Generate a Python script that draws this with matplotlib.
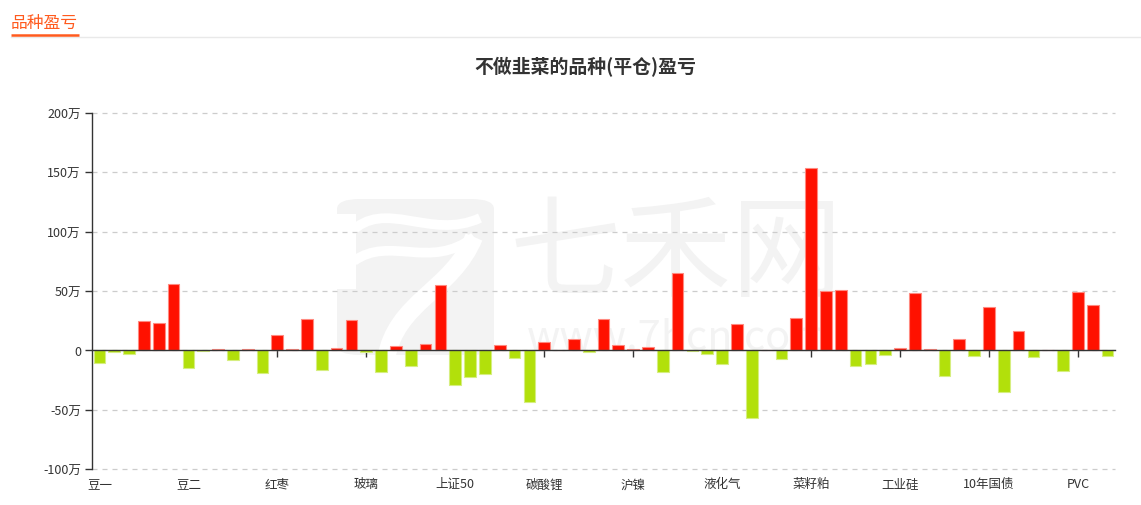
import matplotlib
matplotlib.use("Agg")
import matplotlib.pyplot as plt
from matplotlib.patches import FancyBboxPatch, PathPatch, Rectangle
from matplotlib.path import Path
from matplotlib.lines import Line2D
from matplotlib.ticker import FuncFormatter, FixedLocator
import numpy as np

plt.rcParams['font.family'] = ['Noto Sans CJK SC', 'DejaVu Sans']

# ---- data (盈亏, 单位: 万元) ----
categories = [
    "豆一", "豆粕", "豆油", "棕榈油", "玉米", "玉米淀粉",
    "豆二", "鸡蛋", "生猪", "苹果", "白糖", "棉花",
    "红枣", "花生", "菜籽油", "纯碱", "尿素", "甲醇",
    "玻璃", "PTA", "短纤", "乙二醇", "苯乙烯", "沪深300",
    "上证50", "中证500", "中证1000", "沪铜", "沪铝", "沪锌",
    "碳酸锂", "沪铅", "沪锡", "沪金", "沪银", "螺纹钢",
    "沪镍", "热卷", "铁矿石", "焦炭", "焦煤", "硅铁",
    "液化气", "锰硅", "不锈钢", "原油", "燃料油", "沥青",
    "菜籽粕", "橡胶", "20号胶", "纸浆", "塑料", "聚丙烯",
    "工业硅", "线材", "低硫燃料油", "集运指数", "5年国债", "2年国债",
    "10年国债", "30年国债", "菜籽", "粳米", "强麦", "棉纱",
    "PVC", "烧碱", "对二甲苯",
]
profit_wan = [
    -11.0, -1.7, -3.1, 24.7, 23.0, 56.2, -15.3, -0.3, 0.9, -8.0,
    1.4, -19.3, 12.8, 0.9, 26.4, -16.5, 1.7, 25.6, -1.7, -18.5,
    3.4, -13.1, 5.7, 55.4, -29.5, -22.2, -19.9, 4.3, -6.8, -43.2,
    7.4, 0.0, 9.7, -1.1, 26.1, 4.3, 0.9, 2.6, -17.9, 65.0,
    -0.8, -2.8, -11.9, 21.9, -57.4, 0.0, -7.7, 27.3, 153.8, 50.1,
    50.7, -13.0, -11.5, -4.2, 2.3, 48.5, 0.8, -22.0, 9.6, -4.5,
    36.9, -35.2, 16.1, -5.6, 0.0, -17.5, 49.3, 38.6, -5.1,
]
y_ticks = [-100, -50, 0, 50, 100, 150, 200]
label_interval = 6

W, H = 1141, 506
fig = plt.figure(figsize=(W / 100, H / 100), dpi=100)

def fx(x):
    return x / W

def fy(y):
    return 1 - y / H

def fp(x, y):
    return (fx(x), fy(y))

# ---- header ----
fig.text(fx(11), fy(23), "品种盈亏", color="#ff5a1e", fontsize=12.1,
         va="center", ha="left")
fig.add_artist(Line2D([fx(11), fx(1141)], [fy(37.5), fy(37.5)],
                      color="#e9e9e9", lw=1.0))
fig.add_artist(Line2D([fx(11), fx(79)], [fy(35.5), fy(35.5)],
                      color="#ff5a1e", lw=1.8, solid_capstyle="butt"))

# ---- title ----
fig.text(fx(585), fy(67), "不做韭菜的品种(平仓)盈亏", color="#333333",
         fontsize=13.6, fontweight="bold", ha="center", va="center")

# ---- watermark (behind the axes) ----
wm = "#f3f3f3"
fig.add_artist(FancyBboxPatch(fp(337, 356), fx(494) - fx(337), fy(200) - fy(356),
                              boxstyle="round,pad=0,rounding_size=0.02",
                              transform=fig.transFigure, facecolor=wm,
                              edgecolor="none", zorder=-3))
fig.add_artist(Rectangle(fp(336, 290), fx(356) - fx(336), fy(215) - fy(290),
                         transform=fig.transFigure, facecolor="white",
                         edgecolor="none", zorder=-2))
strokes = [
    ([fp(350, 234), fp(385, 198), fp(430, 242), fp(480, 219)], 7),
    ([fp(354, 262), fp(390, 236), fp(430, 272), fp(474, 238)], 7),
    ([fp(474, 238), fp(452, 292), fp(396, 302), fp(386, 360)], 13),
]
for pts, lw in strokes:
    fig.add_artist(PathPatch(Path(pts, [Path.MOVETO, Path.CURVE4, Path.CURVE4,
                                        Path.CURVE4]),
                             transform=fig.transFigure, facecolor="none",
                             edgecolor="white", lw=lw, capstyle="butt",
                             zorder=-2))
fig.text(fx(510), fy(256), "七禾网", color=wm, fontsize=80, ha="left",
         va="center", fontweight="light", zorder=-2)
fig.text(fx(527), fy(338), "www.7hcn.com", color=wm, fontsize=30,
         ha="left", va="center", zorder=-2)

# ---- axes ----
ax = fig.add_axes([fx(92), fy(470), fx(1115) - fx(92), fy(114) - fy(470)])
ax.patch.set_alpha(0)

x = np.arange(len(categories))
vals = np.array(profit_wan)
colors = np.where(vals >= 0, "#ff1100", "#b2e00b")
edges = np.where(vals >= 0, "#ff8a80", "#d6ee80")
ax.bar(x, vals, width=0.79, color=colors, edgecolor=edges, linewidth=0.8,
       zorder=3)

ax.set_xlim(-0.5, len(categories) - 0.5)
ax.set_ylim(y_ticks[0], y_ticks[-1])

ax.yaxis.set_major_locator(FixedLocator(y_ticks))
ax.yaxis.set_major_formatter(FuncFormatter(
    lambda v, p: "0" if v == 0 else f"{int(v)}万"))
ax.tick_params(axis="y", direction="out", length=5, width=1, color="#333333",
               labelsize=9, labelcolor="#333333", pad=3)
ax.grid(axis="y", color="#cccccc", linestyle=(0, (4, 4)), linewidth=0.9,
        zorder=1)
for gl in ax.get_ygridlines():
    gl.set_clip_on(False)

for s in ["top", "right"]:
    ax.spines[s].set_visible(False)
ax.spines["left"].set_color("#333333")
ax.spines["left"].set_linewidth(1.0)
ax.spines["bottom"].set_position(("data", 0))
ax.spines["bottom"].set_color("#333333")
ax.spines["bottom"].set_linewidth(1.0)
ax.spines["bottom"].set_zorder(4)

tick_pos = x[::label_interval]
ax.set_xticks(tick_pos)
ax.tick_params(axis="x", direction="out", length=5, width=1,
               color="#333333", labelbottom=False)

sec = ax.secondary_xaxis("bottom")
sec.set_xticks(tick_pos)
sec.set_xticklabels([categories[i] for i in tick_pos])
sec.tick_params(axis="x", length=0, labelsize=9, labelcolor="#333333", pad=6)
sec.spines["bottom"].set_visible(False)

fig.savefig("out.png", dpi=100)
